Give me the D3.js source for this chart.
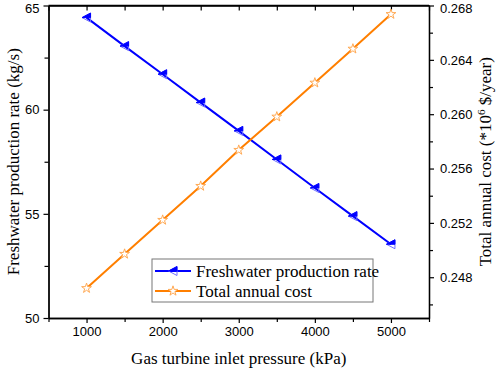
<!DOCTYPE html>
<html>
<head>
<script src="https://d3js.org/d3.v7.min.js"></script>
</head>
<body style="margin:0;background:#fff">
<svg class="target" width="498" height="370"></svg>
<script>

// gas turbine inlet pressure (kPa)
pressure = [1000, 1500, 2000, 2500, 3000, 3500, 4000, 4500, 5000]
// freshwater production rate (kg/s)
freshwater = [64.42, 63.05, 61.70, 60.34, 58.98, 57.61, 56.24, 54.89, 53.54]
// total annual cost (*10^6 $/year)
cost = [0.24719, 0.24971, 0.25221, 0.25471, 0.25736, 0.25981, 0.26231, 0.26481, 0.26736]

xTicks = [1000, 2000, 3000, 4000, 5000]
xMinor = [500, 1500, 2500, 3500, 4500, 5500]
yTicks = [50, 55, 60, 65]
yMinor = [52.5, 57.5, 62.5]
y2Ticks = [0.248, 0.252, 0.256, 0.260, 0.264, 0.268]
y2Minor = [0.246, 0.250, 0.254, 0.258, 0.262, 0.266]

labels = ['Freshwater production rate', 'Total annual cost']

margin = ({top: 5.5, right: 69, bottom: 52, left: 48.5})
width = 498
height = 370

const svg = d3.select('.target')

xScale = d3.scaleLinear([500, 5500], [margin.left, width - margin.right])
yScale = d3.scaleLinear([50, 65], [height - margin.bottom, margin.top])
y2Scale = d3.scaleLinear([0.245, 0.268], [height - margin.bottom, margin.top])

const tickFont = g => g
  .style('font-family', '"Liberation Sans", Arial, sans-serif')
  .style('font-size', '13px')
  .call(g => g.select('.domain').attr('stroke', '#000').attr('stroke-width', 1.3))
  .call(g => g.selectAll('.tick line').attr('stroke', '#000').attr('stroke-width', 1.2))
  .call(g => g.selectAll('.tick text').attr('fill', '#000'))

const x0 = margin.left, x1 = width - margin.right
const y0 = height - margin.bottom, y1 = margin.top

// bottom axis (minor, then major with labels)
svg.append('g')
    .attr('transform', `translate(0,${y0})`)
  .call(d3.axisBottom(xScale).tickValues(xMinor).tickSize(4).tickFormat('').tickSizeOuter(0))
  .call(tickFont)
svg.append('g')
    .attr('transform', `translate(0,${y0})`)
  .call(d3.axisBottom(xScale).tickValues(xTicks).tickSize(5).tickPadding(4).tickFormat(d3.format('d')).tickSizeOuter(0))
  .call(tickFont)

// top axis: ticks pointing in
svg.append('g')
    .attr('transform', `translate(0,${y1})`)
  .call(d3.axisBottom(xScale).tickValues(xMinor.concat(xTicks)).tickSize(5).tickFormat('').tickSizeOuter(0))
  .call(tickFont)

svg.append('g')
    .attr('transform', `translate(${x0},0)`)
  .call(d3.axisLeft(yScale).tickValues(yMinor).tickSize(4).tickFormat('').tickSizeOuter(0))
  .call(tickFont)
svg.append('g')
    .attr('transform', `translate(${x0},0)`)
  .call(d3.axisLeft(yScale).tickValues(yTicks).tickSize(5).tickPadding(4).tickSizeOuter(0))
  .call(tickFont)
  .call(g => g.selectAll('.tick text').filter(d => d === 65).attr('dy', '0.5em'))

svg.append('g')
    .attr('transform', `translate(${x1},0)`)
  .call(d3.axisRight(y2Scale).tickValues(y2Minor).tickSize(4).tickFormat('').tickSizeOuter(0))
  .call(tickFont)
svg.append('g')
    .attr('transform', `translate(${x1},0)`)
  .call(d3.axisRight(y2Scale).tickValues(y2Ticks).tickSize(5).tickPadding(6).tickFormat(d3.format('.3f')).tickSizeOuter(0))
  .call(tickFont)
  .call(g => g.selectAll('.tick text').filter(d => d === 0.268).attr('dy', '0.5em'))

// axis titles
const serif = '"Liberation Serif", "Times New Roman", serif'
svg.append('text')
    .attr('x', (x0 + x1) / 2).attr('y', 364)
    .attr('text-anchor', 'middle')
    .style('font-family', serif).style('font-size', '17px')
  .text('Gas turbine inlet pressure (kPa)')

svg.append('text')
    .attr('transform', `translate(19,${(y0 + y1) / 2}) rotate(-90)`)
    .attr('text-anchor', 'middle')
    .style('font-family', serif).style('font-size', '17px')
  .text('Freshwater production rate (kg/s)')

const t2 = svg.append('text')
    .attr('transform', `translate(491,${(y0 + y1) / 2}) rotate(-90)`)
    .attr('text-anchor', 'middle')
    .style('font-family', serif).style('font-size', '17px')
t2.append('tspan').text('Total annual cost (*10')
t2.append('tspan').attr('dy', -6).style('font-size', '11px').text('6')
t2.append('tspan').attr('dy', 6).text(' $/year)')

// markers
const triFull = 'M-4.5,0L4,-4.5L4,4.5Z'
const triTop = 'M-4.5,0L4,-4.5L4,0Z'
const star = d3.symbol(d3.symbolStar, 30)()

function blueMarker(g) {
  g.append('path').attr('d', triFull).attr('fill', 'none').attr('stroke', '#7070ff').attr('stroke-width', 1)
  g.append('path').attr('d', triTop).attr('fill', '#0000ff').attr('stroke', '#0000ff').attr('stroke-width', 1)
}
function orangeMarker(g) {
  g.append('path').attr('d', star).attr('fill', '#fff').attr('stroke', '#ffaa55').attr('stroke-width', 1)
}

const fwData = pressure.map((p, i) => [p, freshwater[i]])
const costData = pressure.map((p, i) => [p, cost[i]])

svg.append('path')
    .datum(fwData)
    .attr('fill', 'none').attr('stroke', '#0000ff').attr('stroke-width', 2)
    .attr('d', d3.line(d => xScale(d[0]), d => yScale(d[1])))

svg.append('path')
    .datum(costData)
    .attr('fill', 'none').attr('stroke', '#ff7f00').attr('stroke-width', 2)
    .attr('d', d3.line(d => xScale(d[0]), d => y2Scale(d[1])))

svg.selectAll('.fw-pt')
  .data(fwData)
  .join('g')
    .attr('class', 'fw-pt')
    .attr('transform', d => `translate(${xScale(d[0])},${yScale(d[1])})`)
    .each(function() { blueMarker(d3.select(this)) })

svg.selectAll('.cost-pt')
  .data(costData)
  .join('g')
    .attr('class', 'cost-pt')
    .attr('transform', d => `translate(${xScale(d[0])},${y2Scale(d[1])})`)
    .each(function() { orangeMarker(d3.select(this)) })

// top frame line
svg.append('line')
    .attr('x1', x0).attr('x2', x1).attr('y1', y1).attr('y2', y1)
    .attr('stroke', '#000').attr('stroke-width', 1.3)

// legend
const leg = svg.append('g').attr('transform', 'translate(152,259)')
leg.append('rect')
    .attr('width', 221).attr('height', 43)
    .attr('fill', '#fff').attr('stroke', '#777').attr('stroke-width', 1)

const rows = leg.selectAll('g.row')
  .data(labels)
  .join('g')
    .attr('class', 'row')
    .attr('transform', (d, i) => `translate(0,${12 + i * 20})`)
rows.append('line')
    .attr('x1', 3).attr('x2', 39)
    .attr('stroke', (d, i) => i ? '#ff7f00' : '#0000ff').attr('stroke-width', 2)
rows.each(function(d, i) {
  const g = d3.select(this).append('g').attr('transform', 'translate(21,0)')
  i ? orangeMarker(g) : blueMarker(g)
})
rows.append('text')
    .attr('x', 44).attr('dy', '0.35em')
    .style('font-family', serif).style('font-size', '17px')
  .text(d => d)

</script>
</body>
</html>
